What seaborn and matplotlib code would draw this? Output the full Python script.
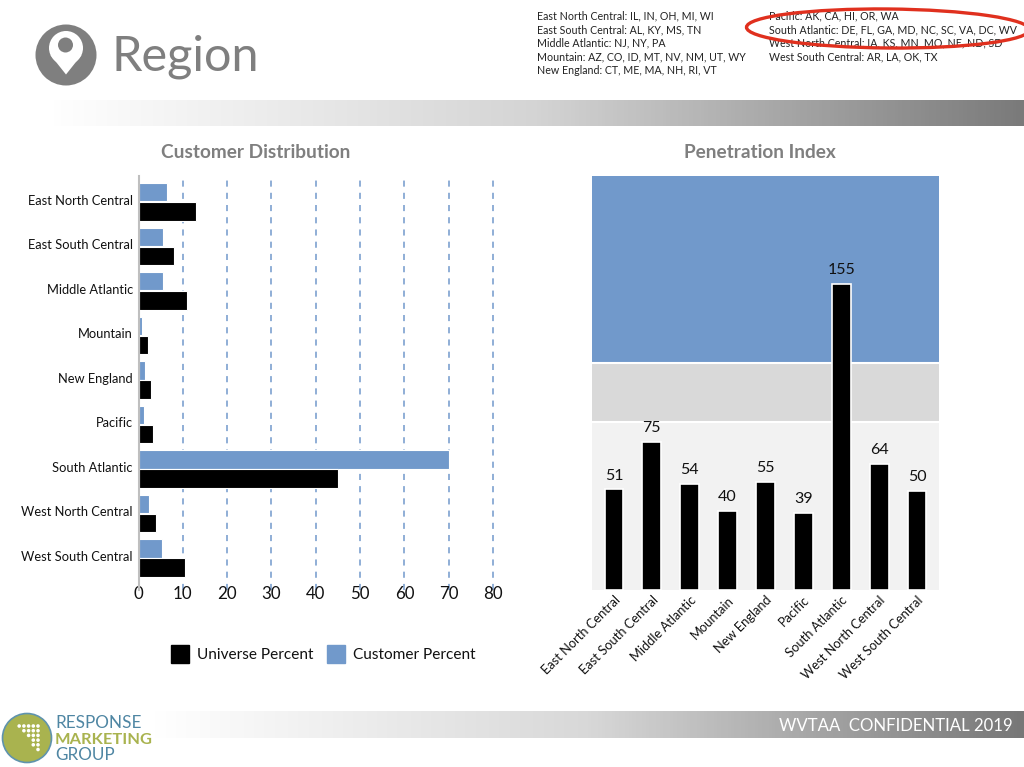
#!/usr/bin/env python3
"""Region slide: customer distribution and penetration index"""

import numpy as np
import pandas as pd
import matplotlib
matplotlib.use("Agg")
import matplotlib.pyplot as plt
import seaborn as sns
from matplotlib.colors import LinearSegmentedColormap
from matplotlib.patches import Circle, Ellipse, Polygon
from matplotlib.lines import Line2D
from matplotlib.transforms import ScaledTranslation

regions = ['East North Central', 'East South Central', 'Middle Atlantic', 'Mountain',
           'New England', 'Pacific', 'South Atlantic', 'West North Central', 'West South Central']
customer_pct = [6.4, 5.6, 5.5, 0.8, 1.4, 1.2, 70, 2.3, 5.2]
universe_pct = [13, 8, 11, 2.2, 2.9, 3.3, 45, 3.9, 10.5]
penetration = [51, 75, 54, 40, 55, 39, 155, 64, 50]
x_ticks = [0, 10, 20, 30, 40, 50, 60, 70, 80]

states_left = ['East North Central: IL, IN, OH, MI, WI',
               'East South Central: AL, KY, MS, TN',
               'Middle Atlantic: NJ, NY, PA',
               'Mountain: AZ, CO, ID, MT, NV, NM, UT, WY',
               'New England: CT, ME, MA, NH, RI, VT']
states_right = ['Pacific: AK, CA, HI, OR, WA',
                'South Atlantic: DE, FL, GA, MD, NC, SC, VA, DC, WV',
                'West North Central: IA, KS, MN, MO, NE, ND, SD',
                'West South Central: AR, LA, OK, TX']

BLUE = '#7199cb'
W, H = 1024, 767

sns.set_theme(style='white')
plt.rcParams['font.family'] = ['Lato', 'DejaVu Sans']

fig = plt.figure(figsize=(W / 100, H / 100), dpi=100, facecolor='white')


def axes_px(left, top, right, bottom, **kw):
    """Axes from pixel edges measured from the top left corner"""
    return fig.add_axes([left / W, 1 - bottom / H, (right - left) / W, (bottom - top) / H], **kw)


# page furniture in pixel coordinates
page = fig.add_axes([0, 0, 1, 1], zorder=0)
ramp = np.linspace(0, 1, 256).reshape(1, -1)
page.imshow(ramp, extent=(50, W, 126, 100), aspect='auto',
            cmap=LinearSegmentedColormap.from_list('band', ['#ffffff', '#d4d4d4', '#7a7a7a']))
page.imshow(ramp, extent=(152, W, 738, 711), aspect='auto',
            cmap=LinearSegmentedColormap.from_list('foot', ['#ffffff', '#d8d8d8', '#777777']))
page.set_xlim(0, W)
page.set_ylim(H, 0)
page.axis('off')

# pin icon
page.add_patch(Circle((66, 55), 30.5, color='#7f7f7f', lw=0))
page.add_patch(Circle((66, 48), 17, color='white', lw=0))
page.add_patch(Polygon([[50.5, 55], [81.5, 55], [66, 74.5]], color='white', lw=0))
page.add_patch(Circle((65.5, 45), 7.5, color='#7f7f7f', lw=0))
page.text(111, 57, 'Region', fontsize=35, color='#7f7f7f', va='center', ha='left')

for i, line in enumerate(states_left):
    page.text(537, 16 + i * 13.7, line, fontsize=7.65, color='#222222', va='center')
for i, line in enumerate(states_right):
    page.text(769, 16 + i * 13.7, line, fontsize=7.65, color='#222222', va='center')
page.add_patch(Ellipse((888, 28.5), 283, 39, angle=0.5, fill=False, ec='#e0301e', lw=2.4, zorder=5))

# footer
page.text(1013, 726, 'WVTAA  CONFIDENTIAL 2019', fontsize=12.1, color='white', ha='right', va='center')
page.add_patch(Circle((27, 738), 24.5, fc='#a9b34f', ec='#5f93ad', lw=1.2))
for row, count in enumerate([5, 4, 3, 2, 2, 1]):
    for c in range(count):
        page.add_patch(Circle((38 - c * 4.7, 726 + row * 4.7), 1.8, color='white', lw=0))
page.text(55, 723, 'RESPONSE', fontsize=12.3, color='#4f86a3', va='center')
page.text(55, 740, 'MARKETING', fontsize=11.8, color='#a9b34f', va='center', fontweight='bold')
page.text(55, 755, 'GROUP', fontsize=12.3, color='#4f86a3', va='center')

# left chart
dist = pd.DataFrame({'region': regions * 2,
                     'pct': customer_pct + universe_pct,
                     'series': ['Customer Percent'] * 9 + ['Universe Percent'] * 9})
ax = axes_px(138.5, 176, 493, 590, zorder=1)
ax.patch.set_alpha(0)
ax.set_axisbelow(True)
sns.barplot(data=dist, y='region', x='pct', hue='series', order=regions,
            hue_order=['Customer Percent', 'Universe Percent'],
            palette={'Customer Percent': BLUE, 'Universe Percent': 'black'}, saturation=1,
            orient='h', width=0.86, gap=0.04, edgecolor='white', linewidth=0.8, ax=ax, legend=False)
ax.set_xlim(0, 80)
ax.set_ylim(8.72, -0.58)
ax.set_xticks(x_ticks)
ax.set_xticklabels([str(v) for v in x_ticks], fontsize=12.2, color='#111111')
ax.tick_params(axis='y', labelsize=9.3, labelcolor='#111111', length=0, pad=4)
ax.tick_params(axis='x', length=0, pad=-2.8)
ax.set_xlabel('')
ax.set_ylabel('')
ax.xaxis.grid(True, linestyle=(0, (4, 4)), color=BLUE, linewidth=1.1)
ax.yaxis.grid(False)
for gl in ax.get_xgridlines():
    gl.set_clip_on(False)
# labels sit a little above the bar pair centre in the original
nudge = ScaledTranslation(0, 2 / 100, fig.dpi_scale_trans)
for lbl in ax.get_yticklabels():
    lbl.set_transform(lbl.get_transform() + nudge)
sns.despine(ax=ax, top=True, right=True, bottom=True, left=False)
ax.spines['left'].set_color('#bfbfbf')
ax.spines['left'].set_linewidth(1.5)
page.text(256, 153, 'Customer Distribution', fontsize=13.7, fontweight='bold', color='#7f7f7f',
          ha='center', va='center')

handles = [Line2D([], [], marker='s', ls='', color='black', markersize=13),
           Line2D([], [], marker='s', ls='', color=BLUE, markersize=13)]
fig.legend(handles, ['Universe Percent', 'Customer Percent'], ncol=2, frameon=False, fontsize=11.1,
           loc='center', bbox_to_anchor=(320 / W, 1 - 655 / H), handletextpad=0.1, columnspacing=0.5,
           labelcolor='#111111')

# right chart
ax2 = axes_px(592, 176, 939, 590, zorder=1)
ax2.axhspan(0, 85, color='#f2f2f2', lw=0, zorder=0)
ax2.axhspan(85, 115, color='#d9d9d9', lw=0, zorder=0)
ax2.axhspan(115, 210, color=BLUE, lw=0, zorder=0)
ax2.axhline(85, color='white', lw=1.5, zorder=0.5)
ax2.axhline(115, color='white', lw=1.5, zorder=0.5)
sns.barplot(x=regions, y=penetration, color='black', width=0.5, saturation=1,
            edgecolor='white', linewidth=1.2, ax=ax2, zorder=2)
ax2.set_xlim(-0.58, 8.58)
ax2.set_ylim(0, 210)
ax2.bar_label(ax2.containers[0], labels=[str(v) for v in penetration], fontsize=11.5, padding=5, color='#111111')
ax2.set_yticks([])
ax2.tick_params(axis='x', length=0, pad=3)
plt.setp(ax2.get_xticklabels(), rotation=45, ha='right', rotation_mode='anchor',
         fontsize=9.3, color='#111111')
sns.despine(ax=ax2, left=True, bottom=True)
page.text(760, 153, 'Penetration Index', fontsize=13.7, fontweight='bold', color='#7f7f7f',
          ha='center', va='center')

fig.savefig('out.png', dpi=100)
plt.close(fig)
